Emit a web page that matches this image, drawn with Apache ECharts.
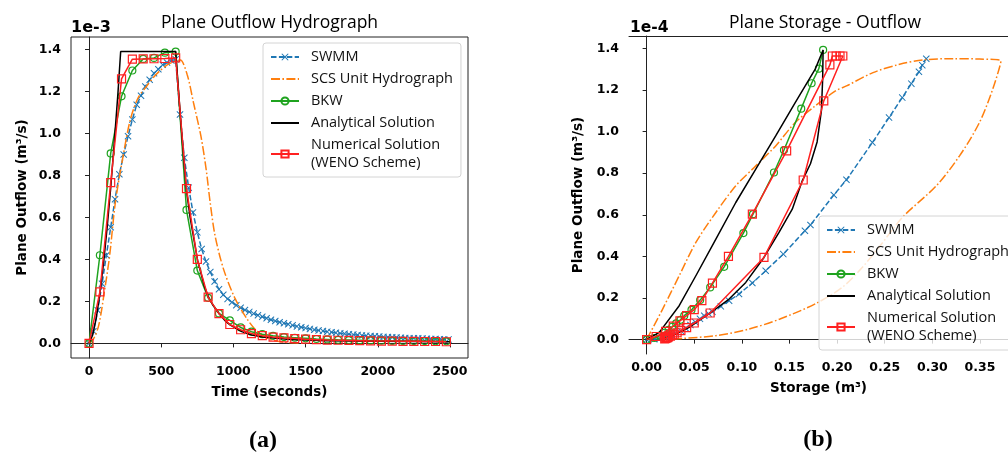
<!DOCTYPE html>
<html><head><meta charset="utf-8">
<script src="https://cdn.jsdelivr.net/npm/echarts@6/dist/echarts.min.js"></script>
<style>html,body{margin:0;padding:0;background:#fff}#c{width:1008px;height:459px}</style>
</head><body><div id="c"></div>
<script>
// ---------- Series names ----------
const seriesNames = ['SWMM', 'SCS Unit Hydrograph', 'BKW', 'Analytical Solution', 'Numerical Solution (WENO Scheme)'];

// ---------- Tick labels ----------
const hydXTicks = [0, 500, 1000, 1500, 2000, 2500];
const yTicks = [0, 0.2, 0.4, 0.6, 0.8, 1.0, 1.2, 1.4];
const stoXTicks = [0, 0.05, 0.10, 0.15, 0.20, 0.25, 0.30, 0.35];

// ---------- (a) Plane Outflow Hydrograph (time s, outflow x1e-3) ----------
const swmmT = [0,30,60,90,120,150,180,210,240,270,300,330,360,390,420,450,480,510,540,570,600,630,660,690,720,750,780,810,840,870,900,930,960,990,1020,1050,1080,1110,1140,1170,1200,1230,1260,1290,1320,1350,1380,1410,1440,1470,1500,1530,1560,1590,1620,1650,1680,1710,1740,1770,1800,1830,1860,1890,1920,1950,1980,2010,2040,2070,2100,2130,2160,2190,2220,2250,2280,2310,2340,2370,2400,2430,2460,2490];
const swmmQ = [0,0.058,0.158,0.284,0.42,0.553,0.687,0.806,0.90,0.987,1.066,1.137,1.18,1.224,1.256,1.287,1.306,1.327,1.338,1.347,1.353,1.09,0.884,0.742,0.624,0.529,0.45,0.39,0.34,0.295,0.258,0.232,0.212,0.196,0.182,0.17,0.159,0.15,0.142,0.134,0.127,0.12,0.113,0.107,0.101,0.096,0.091,0.086,0.081,0.077,0.073,0.069,0.065,0.062,0.059,0.056,0.053,0.051,0.048,0.046,0.044,0.042,0.040,0.038,0.037,0.035,0.034,0.033,0.031,0.030,0.029,0.028,0.027,0.026,0.025,0.024,0.024,0.023,0.022,0.021,0.021,0.020,0.019,0.019];

const scsT = [0,30,67,106,143,182,240,286,340,397,450,493,550,600,632,680,724,775,811,839,873,931,1012,1093,1157,1250,1350,1500];
const scsQ = [0,0.02,0.086,0.245,0.42,0.67,0.908,1.066,1.17,1.224,1.27,1.30,1.33,1.345,1.35,1.28,1.145,0.987,0.83,0.671,0.513,0.355,0.213,0.118,0.063,0.02,0.006,0];

const markT = [0,75,150,225,300,375,450,525,600,675,750,825,900,975,1050,1125,1200,1275,1350,1425,1500,1575,1650,1725,1800,1875,1950,2025,2100,2175,2250,2325,2400,2475];
const bkwQ = [0,0.42,0.905,1.177,1.30,1.355,1.36,1.385,1.39,0.636,0.347,0.217,0.143,0.11,0.076,0.056,0.044,0.036,0.03,0.027,0.024,0.021,0.019,0.017,0.016,0.015,0.014,0.013,0.012,0.012,0.011,0.011,0.010,0.010];
const wenoQ = [0,0.245,0.766,1.26,1.354,1.355,1.356,1.357,1.36,0.737,0.40,0.22,0.142,0.09,0.065,0.047,0.037,0.030,0.026,0.023,0.020,0.018,0.016,0.015,0.014,0.013,0.012,0.011,0.011,0.010,0.010,0.009,0.009,0.008];

const anaT = [0,25,50,75,100,125,150,175,200,219,600,615,632,650,674,700,752,800,828,860,903,940,977,1020,1058,1127,1205,1300,1400,1500,1650,1800,2000,2250,2500];
const anaQ = [0,0.04,0.12,0.24,0.38,0.55,0.74,0.96,1.19,1.39,1.39,1.25,1.09,0.93,0.735,0.6,0.395,0.27,0.22,0.18,0.14,0.11,0.088,0.07,0.056,0.04,0.03,0.024,0.019,0.016,0.013,0.011,0.01,0.009,0.008];

// ---------- (b) Plane Storage - Outflow (storage m3, outflow x1e-4) ----------
const swmmS = [0,0.008,0.014,0.02,0.026,0.031,0.036,0.041,0.046,0.051,0.056,0.0605,0.065,0.0691,0.0779,0.0866,0.097,0.111,0.125,0.1435,0.1662,0.172,0.1965,0.2098,0.237,0.2545,0.2684,0.2779,0.2859,0.2894,0.2936];
const swmmO = [0,0.002,0.006,0.012,0.02,0.03,0.042,0.055,0.07,0.085,0.1,0.115,0.125,0.134,0.16,0.187,0.219,0.272,0.331,0.411,0.523,0.551,0.695,0.768,0.947,1.067,1.163,1.23,1.287,1.319,1.35];

const scsS = [0,0.0168,0.0342,0.0517,0.0727,0.0936,0.1146,0.1355,0.156,0.177,0.1983,0.2098,0.2377,0.2657,0.29,0.3215,0.3494,0.372,0.3634,0.3494,0.3285,0.3041,0.2691,0.245,0.225,0.205,0.177,0.14,0.1075,0.0727,0.0377,0.02];
const scsO = [0,0.147,0.307,0.467,0.611,0.739,0.835,0.931,1.043,1.123,1.195,1.219,1.283,1.323,1.344,1.35,1.348,1.339,1.204,1.043,0.883,0.739,0.59,0.45,0.34,0.25,0.172,0.099,0.051,0.019,0.006,0];

const bkwS = [0,0.008,0.014,0.019,0.023,0.027,0.031,0.0355,0.0395,0.0471,0.0562,0.0667,0.0814,0.1016,0.1117,0.1337,0.1442,0.1623,0.1732,0.1808,0.1853];
const bkwO = [0,0.008,0.02,0.033,0.047,0.062,0.078,0.095,0.115,0.143,0.19,0.251,0.35,0.512,0.603,0.803,0.911,1.11,1.232,1.302,1.392];

const anaS = [0,0.0133,0.0342,0.0517,0.0727,0.0936,0.1146,0.1355,0.156,0.177,0.1853,0.1848,0.1835,0.179,0.172,0.1634,0.1529,0.139,0.1232,0.1041,0.0866,0.0667,0.0447,0.0272,0.0168];
const anaO = [0,0.035,0.163,0.307,0.483,0.659,0.819,0.979,1.139,1.30,1.392,1.25,1.1,0.95,0.845,0.763,0.627,0.515,0.395,0.275,0.195,0.128,0.059,0.019,0.003];

const wenoS = [0,0.01,0.02,0.028,0.035,0.042,0.05,0.058,0.0691,0.0859,0.111,0.147,0.1924,0.195,0.199,0.203,0.206,0.186,0.1644,0.1232,0.0667,0.05,0.042,0.036,0.032,0.029,0.027,0.025,0.023,0.022,0.021,0.02,0.019];
const wenoO = [0,0.015,0.04,0.065,0.09,0.115,0.144,0.187,0.272,0.4,0.603,0.907,1.32,1.363,1.363,1.363,1.363,1.147,0.767,0.395,0.128,0.08,0.058,0.043,0.033,0.026,0.021,0.017,0.013,0.01,0.008,0.006,0.004];

// ---------- Build ----------
const pairs = (xs, ys) => xs.map((x, i) => [x, ys[i]]);
const C = { blue: '#1f77b4', orange: '#ff7f0e', green: '#1fa31f', black: '#000000', red: '#ff2020' };
const NOFILL = 'rgba(255,255,255,0)';
const xPath = 'path://M0,1L1,0L5,4L9,0L10,1L6,5L10,9L9,10L5,6L1,10L0,9L4,5Z';
const DASH = [5.5, 2.4];
const DASHDOT = [9, 2.4, 1.6, 2.4];

function makeSeries(ax, d) {
  const common = { xAxisIndex: ax, yAxisIndex: ax, animation: false, clip: true };
  return [
    Object.assign({}, common, { name: seriesNames[0], type: 'line', data: d[0], symbol: xPath, symbolSize: 7,
      itemStyle: { color: C.blue }, lineStyle: { color: C.blue, width: 1.5, type: DASH }, z: 2 }),
    Object.assign({}, common, { name: seriesNames[1], type: 'line', data: d[1], symbol: 'none', smooth: 0.3,
      itemStyle: { color: NOFILL }, lineStyle: { color: C.orange, width: 1.5, type: DASHDOT }, z: 3 }),
    Object.assign({}, common, { name: seriesNames[2], type: 'line', data: d[2], symbol: 'circle', symbolSize: 7,
      itemStyle: { color: NOFILL, borderColor: C.green, borderWidth: 1.2 },
      lineStyle: { color: C.green, width: 1.5 }, z: 4 }),
    Object.assign({}, common, { name: seriesNames[3], type: 'line', data: d[3], symbol: 'none',
      itemStyle: { color: NOFILL }, lineStyle: { color: C.black, width: 1.5 }, z: 5 }),
    Object.assign({}, common, { name: seriesNames[4], type: 'line', data: d[4], symbol: 'rect', symbolSize: 8,
      itemStyle: { color: NOFILL, borderColor: C.red, borderWidth: 1.2 },
      lineStyle: { color: C.red, width: 1.5 }, z: 6 })
  ];
}

const tickFont = { fontFamily: 'DejaVu Sans', fontWeight: 'bold', fontSize: 12.5, color: '#000' };
const nameFont = { fontFamily: 'DejaVu Sans', fontWeight: 'bold', fontSize: 13.5, color: '#000' };
const axLine = { show: true, lineStyle: { color: '#222', width: 1 } };
const axTick = (vals) => ({ show: true, length: 4, lineStyle: { color: '#222', width: 1 }, customValues: vals });

function legendCfg(left, top) {
  return {
    left: left, top: top, orient: 'vertical', data: seriesNames,
    itemWidth: 28, itemHeight: 9, itemGap: 4, padding: [5, 8, 5, 7],
    backgroundColor: 'rgba(255,255,255,0.8)', borderColor: '#d4d4d4', borderWidth: 1, borderRadius: 3,
    selectedMode: false,
    textStyle: { fontFamily: 'Open Sans', fontSize: 14.5, color: '#111', lineHeight: 18, padding: [0, 0, 0, 7] },
    formatter: (n) => n.replace(' (', '\n(')
  };
}

const chart = echarts.init(document.getElementById('c'), null, { renderer: 'canvas' });
chart.setOption({
  backgroundColor: '#ffffff',
  animation: false,
  grid: [
    { left: 71, top: 37, width: 397, height: 321, show: true, borderColor: '#222', borderWidth: 1, backgroundColor: 'transparent' },
    { left: 629, top: 36, width: 380, height: 318, show: false }
  ],
  xAxis: [
    { type: 'value', gridIndex: 0, min: -125, max: 2625, splitLine: { show: false },
      axisLine: axLine, axisTick: axTick(hydXTicks),
      axisLabel: Object.assign({ customValues: hydXTicks, margin: 7, formatter: (v) => String(v) }, tickFont),
      name: 'Time (seconds)', nameLocation: 'middle', nameGap: 27, nameTextStyle: nameFont },
    { type: 'value', gridIndex: 1, min: -0.0185, max: 0.3794, splitLine: { show: false },
      axisLine: axLine, axisTick: axTick(stoXTicks),
      axisLabel: Object.assign({ customValues: stoXTicks, margin: 7, formatter: (v) => v.toFixed(2) }, tickFont),
      name: 'Storage (m³)', nameLocation: 'middle', nameGap: 27, nameTextStyle: nameFont },
    { type: 'value', gridIndex: 1, position: 'top', min: -0.0185, max: 0.3794, splitLine: { show: false },
      axisLine: axLine, axisTick: { show: false }, axisLabel: { show: false } }
  ],
  yAxis: [
    { type: 'value', gridIndex: 0, min: -0.0695, max: 1.4595, splitLine: { show: false },
      axisLine: axLine, axisTick: axTick(yTicks),
      axisLabel: Object.assign({ customValues: yTicks, margin: 10, formatter: (v) => v.toFixed(1) }, tickFont),
      name: 'Plane Outflow (m³/s)', nameLocation: 'middle', nameGap: 42, nameTextStyle: nameFont },
    { type: 'value', gridIndex: 1, min: -0.069, max: 1.459, splitLine: { show: false },
      axisLine: axLine, axisTick: axTick(yTicks),
      axisLabel: Object.assign({ customValues: yTicks, margin: 10, formatter: (v) => v.toFixed(1) }, tickFont),
      name: 'Plane Outflow (m³/s)', nameLocation: 'middle', nameGap: 44, nameTextStyle: nameFont }
  ],
  legend: [legendCfg(263, 43), legendCfg(819, 216)],
  graphic: [
    { type: 'text', x: 269.5, y: 23, style: { text: 'Plane Outflow Hydrograph', fontFamily: 'Open Sans', fontSize: 17.5, fill: '#000', align: 'center', verticalAlign: 'middle' } },
    { type: 'text', x: 825, y: 23, style: { text: 'Plane Storage - Outflow', fontFamily: 'Open Sans', fontSize: 17.5, fill: '#000', align: 'center', verticalAlign: 'middle' } },
    { type: 'text', x: 71, y: 28, style: { text: '1e-3', fontFamily: 'DejaVu Sans', fontWeight: 'bold', fontSize: 16, fill: '#000', align: 'left', verticalAlign: 'middle' } },
    { type: 'text', x: 630, y: 28, style: { text: '1e-4', fontFamily: 'DejaVu Sans', fontWeight: 'bold', fontSize: 15.5, fill: '#000', align: 'left', verticalAlign: 'middle' } },
    { type: 'text', x: 263, y: 441, style: { text: '(a)', fontFamily: 'Liberation Serif', fontWeight: 'bold', fontSize: 24, fill: '#000', align: 'center', verticalAlign: 'middle' } },
    { type: 'text', x: 818, y: 440, style: { text: '(b)', fontFamily: 'Liberation Serif', fontWeight: 'bold', fontSize: 24, fill: '#000', align: 'center', verticalAlign: 'middle' } }
  ],
  series: [].concat(
    makeSeries(0, [pairs(swmmT, swmmQ), pairs(scsT, scsQ), pairs(markT, bkwQ), pairs(anaT, anaQ), pairs(markT, wenoQ)]),
    makeSeries(1, [pairs(swmmS, swmmO), pairs(scsS, scsO), pairs(bkwS, bkwO), pairs(anaS, anaO), pairs(wenoS, wenoO)])
  )
});
</script></body></html>
